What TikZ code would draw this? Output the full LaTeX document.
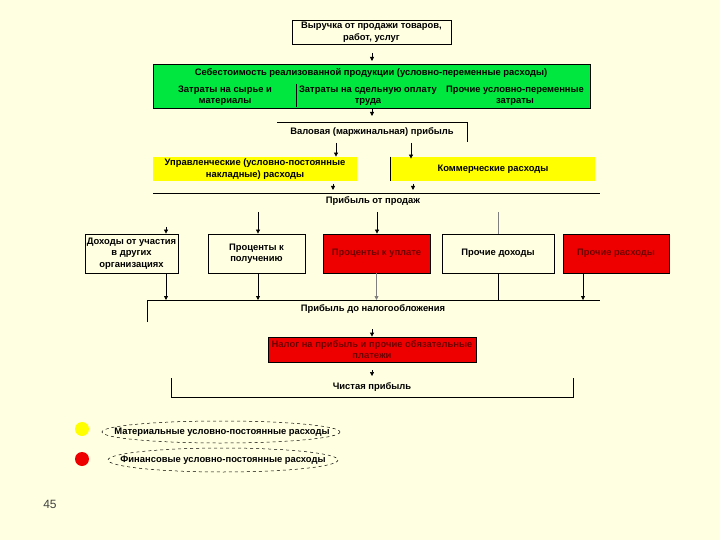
\documentclass[tikz,border=0pt]{standalone}
\usepackage{fontspec}
\setmainfont{Liberation Sans}
\usetikzlibrary{arrows.meta}

\definecolor{bgcream}{RGB}{255,255,225}
\definecolor{boxgreen}{RGB}{0,232,64}
\definecolor{boxyellow}{RGB}{255,255,0}
\definecolor{boxred}{RGB}{238,0,0}
\definecolor{redtext}{RGB}{110,0,0}

\tikzset{
  txt/.style={inner sep=0pt, align=center, font=\fontsize{9.4}{11.5}\selectfont\bfseries},
  plainbox/.style={txt, draw, fill=bgcream},
  redbox/.style={txt, draw, fill=boxred, text=redtext},
  yellowbox/.style={txt, fill=boxyellow},
  arr/.style={-{Triangle[length=4pt,width=4pt]}}
}

\begin{document}
\begin{tikzpicture}[x=1pt, y=-1pt, line width=0.8pt]
    \fill[bgcream] (0,0) rectangle (720,540);
    \useasboundingbox (0,0) rectangle (720,540);

    % revenue
    \node[plainbox, minimum width=159, minimum height=24] (revenue) at (371.5,32) {Выручка от продажи товаров,\\работ, услуг};
    \coordinate (r1) at (372,53);
    \coordinate (r2) at (372,61);
    \draw[arr] (r1) -- (r2);

    % cost of sales
    \node[txt, draw, fill=boxgreen, minimum width=437, minimum height=44] (cost) at (371.5,86) {};
    \node[txt] (costtitle) at (371,73) {Себестоимость реализованной продукции (условно-переменные расходы)};
    \node[txt] (raw) at (225,95.5) {Затраты на сырье и\\материалы};
    \node[txt] (wage) at (368,95.5) {Затраты на сдельную оплату\\труда};
    \node[txt] (other) at (515,95.5) {Прочие условно-переменные\\затраты};
    \coordinate (s1) at (296,84);
    \coordinate (s2) at (296,107);
    \draw (s1) -- (s2);
    \coordinate (c1) at (372,109);
    \coordinate (c2) at (372,116);
    \draw[arr] (c1) -- (c2);

    % gross profit
    \node[txt] (gross) at (372,132) {Валовая (маржинальная) прибыль};
    \coordinate (g1) at (277,122);
    \coordinate (g2) at (467,122);
    \coordinate (g3) at (467,142);
    \draw (g1) -- (g2) -- (g3);

    \node[yellowbox, minimum width=204, minimum height=24] (admin) at (255,169) {Управленческие (условно-постоянные\\накладные) расходы};
    \node[yellowbox, minimum width=204, minimum height=24] (sales) at (493,169) {Коммерческие расходы};
    \draw (sales.north west) -- (sales.south west);
    \coordinate (a1) at (336,143);
    \coordinate (a2) at (411,143);
    \draw[arr] (a1) -- (a1 |- admin.north);
    \draw[arr] (a2) -- ([yshift=-2pt]a2 |- sales.north);
    \coordinate (a3) at (333,184);
    \coordinate (a4) at (333,190);
    \coordinate (a5) at (413,184);
    \coordinate (a6) at (413,190);
    \draw[arr] (a3) -- (a4);
    \draw[arr] (a5) -- (a6);

    % profit from sales
    \node[txt] (salesprofit) at (373,201) {Прибыль от продаж};
    \coordinate (p1) at (153,193);
    \coordinate (p2) at (600,193);
    \draw (p1) -- (p2);

    \node[plainbox, minimum width=93, minimum height=39] (part) at (131.5,253.5) {Доходы от участия\\в других\\организациях};
    \node[plainbox, minimum width=97, minimum height=39] (intrec) at (256.5,253.5) {Проценты к\\получению};
    \node[redbox, minimum width=107, minimum height=39] (intpay) at (376.5,253.5) {Проценты к уплате};
    \node[plainbox, minimum width=112, minimum height=39] (othinc) at (498,253.5) {Прочие доходы};
    \node[redbox, minimum width=106, minimum height=39] (othexp) at (616,253.5) {Прочие расходы};

    \coordinate (d1) at (166,227);
    \coordinate (d2) at (258,212);
    \coordinate (d3) at (377,212);
    \coordinate (d4) at (498,212);
    \draw[arr] (d1) -- (d1 |- part.north);
    \draw[arr] (d2) -- (d2 |- intrec.north);
    \draw[arr] (d3) -- (d3 |- intpay.north);
    \draw[gray] (d4) -- (d4 |- othinc.north);

    % profit before tax
    \node[txt] (pretax) at (373,309) {Прибыль до налогообложения};
    \coordinate (b1) at (147,322);
    \coordinate (b2) at (147,300);
    \coordinate (b3) at (600,300);
    \draw (b1) -- (b2) -- (b3);
    \draw[arr] ([xshift=34.5pt]part.south) -- ([xshift=34.5pt]part.south |- b2);
    \draw[arr] ([xshift=1.5pt]intrec.south) -- ([xshift=1.5pt]intrec.south |- b2);
    \draw[arr, gray] (intpay.south) -- (intpay.south |- b2);
    \draw (othinc.south) -- (othinc.south |- b2);
    \draw[arr] ([xshift=-33pt]othexp.south) -- ([xshift=-33pt]othexp.south |- b2);

    % tax
    \node[redbox, minimum width=208, minimum height=25] (tax) at (372,349.5) {Налог на прибыль и прочие обязательные\\платежи};
    \coordinate (t1) at (372,329);
    \draw[arr] (t1) -- (tax.north);
    \coordinate (t2) at (372,370);
    \coordinate (t3) at (372,376);
    \draw[arr, line width=0.5pt] (t2) -- (t3);

    % net profit
    \node[txt] (net) at (372,387) {Чистая прибыль};
    \coordinate (n1) at (171,378);
    \coordinate (n2) at (171,397);
    \coordinate (n3) at (573,397);
    \coordinate (n4) at (573,378);
    \draw (n1) -- (n2) -- (n3) -- (n4);

    % legend
    \node[circle, fill=boxyellow, minimum size=14, inner sep=0pt] (dotyellow) at (82,429) {};
    \node[circle, fill=boxred, minimum size=14, inner sep=0pt] (dotred) at (82,459) {};
    \draw[dashed, line width=0.5pt] (221,432) ellipse (119 and 11);
    \draw[dashed, line width=0.5pt] (223,460) ellipse (115 and 12);
    \node[txt] (matfix) at (222,432) {Материальные условно-постоянные расходы};
    \node[txt] (finfix) at (223,460) {Финансовые условно-постоянные расходы};

    \node[inner sep=0pt, text=black!75, font=\fontsize{12}{14}\selectfont] (page) at (50,504) {45};
\end{tikzpicture}
\end{document}
